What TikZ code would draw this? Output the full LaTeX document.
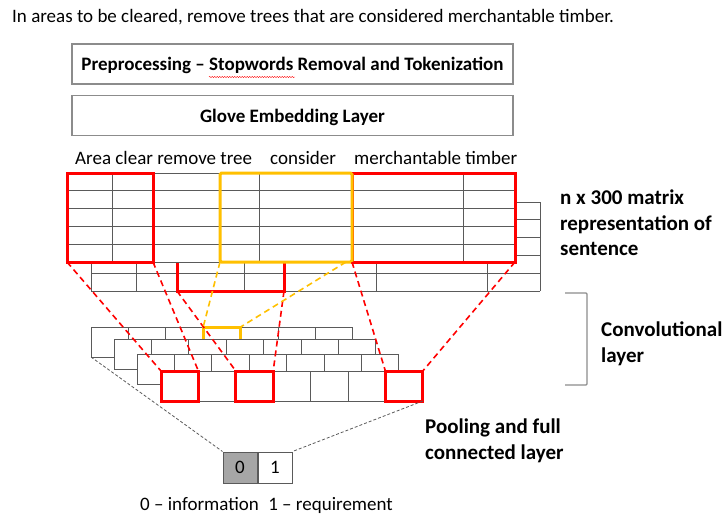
\documentclass[tikz,border=0pt]{standalone}
\usepackage{fontspec}
\setmainfont{Carlito}
\usetikzlibrary{decorations.pathmorphing}
\definecolor{ylw}{HTML}{FFC000}
\definecolor{gridgray}{HTML}{5A5A5A}
\definecolor{framegray}{HTML}{8C8C8C}
\definecolor{cellfill}{HTML}{A6A6A6}
\begin{document}
\begin{tikzpicture}[x=1pt,y=-1pt,
  txt/.style={font=\fontsize{19}{23}\selectfont, inner sep=0pt},
  bold/.style={font=\fontsize{21}{25.5}\selectfont\bfseries, inner sep=0pt, align=left},
  procbox/.style={draw=framegray, line width=1.5pt, minimum width=441pt, minimum height=40pt,
    font=\fontsize{19}{23}\selectfont\bfseries, inner sep=0pt, text depth=0pt},
  gridline/.style={draw=gridgray, line width=0.9pt},
  cellbox/.style={draw=gridgray, line width=0.9pt, fill=white},
  redbox/.style={draw=red, line width=3pt},
  ylwbox/.style={draw=ylw, line width=3pt, rounded corners=1.5pt},
  reddash/.style={draw=red, line width=1.6pt, dash pattern=on 6pt off 4pt},
  ylwdash/.style={draw=ylw, line width=1.6pt, dash pattern=on 6pt off 4pt},
  thindash/.style={draw=gridgray, line width=0.8pt, dash pattern=on 3pt off 2pt},
  outcell/.style={draw=gridgray, line width=1pt, minimum width=34pt, minimum height=31pt,
    inner sep=0pt, font=\fontsize{19}{23}\selectfont},
]
\useasboundingbox (0,0) rectangle (724,514);

% sentence and processing stages
\node[txt, anchor=west] (sent) at (12,17)
  {In areas to be cleared, remove trees that are considered merchantable timber.};
\node[procbox] (pre) at (292.5,64) {Preprocessing -- Stopwords Removal and Tokenization};
\draw[red, line width=0.4pt, decorate, decoration={snake, amplitude=0.6pt, segment length=2.5pt}]
  (209,77) -- (295,77);
\node[procbox] (glove) at (292.5,115.5) {Glove Embedding Layer};

% tokens
\node[txt, anchor=west] (tok1) at (75,158) {Area clear remove tree};
\node[txt, anchor=west] (tok2) at (270,158) {consider};
\node[txt, anchor=west] (tok3) at (354,158) {merchantable timber};

% back embedding matrix
\fill[white] (91,202) rectangle (540,291);
\foreach \k in {0,...,5} \draw[gridline] (91,202+\k*17.8) -- (540,202+\k*17.8);
\foreach \x in {91,136,177,244,283,376,487,540} \draw[gridline] (\x,202) -- (\x,291);
\draw[redbox] (177,202) rectangle (284,291);

% front embedding matrix
\fill[white] (67,173) rectangle (515,262);
\foreach \k in {0,...,5} \draw[gridline] (67,173+\k*17.8) -- (515,173+\k*17.8);
\foreach \x in {67,112,153,220,259,352,463,515} \draw[gridline] (\x,173) -- (\x,262);
\draw[redbox] (67,173) rectangle (153,262);
\draw[redbox] (352,173) rectangle (515,262);
\draw[ylwbox] (220,173) rectangle (352,262);

% named corners for the filter connectors
\coordinate (mL1) at (67,262);
\coordinate (mL2) at (153,262);
\coordinate (mB1) at (177,291);
\coordinate (mB2) at (284,291);
\coordinate (mR1) at (352,262);
\coordinate (mR2) at (515,262);
\coordinate (mY1) at (220,262);
\coordinate (mY2) at (346,262);

% convolutional feature maps (stacked)
\foreach \lx/\ly [count=\n] in {91/327, 114/339, 137/354, 161/371} {
  \foreach \i in {0,...,6}
    \draw[cellbox] (\lx+\i*37.4,\ly) rectangle ++(37.4,30);
  \ifnum\n=1
    \draw[draw=ylw, line width=3pt] (203.2,357) -- (203.2,327) -- (240.6,327) -- (240.6,357);
  \fi
}
\draw[redbox] (161,371) rectangle (198.4,401);
\draw[redbox] (235.8,371) rectangle (273.2,401);
\draw[redbox] (385.4,371) rectangle (422.8,401);

\coordinate (cA1) at (161,371);
\coordinate (cA2) at (198.4,371);
\coordinate (cB1) at (235.8,371);
\coordinate (cB2) at (273.2,371);
\coordinate (cC1) at (385.4,371);
\coordinate (cC2) at (422.8,371);
\coordinate (cY1) at (203.2,327);
\coordinate (cY2) at (240.6,327);
\coordinate (cBL) at (91,357);
\coordinate (cBR) at (422.8,401);

% filter connectors
\draw[reddash] (mL1) -- (cA1);
\draw[reddash] (mL2) -- (cA2);
\draw[reddash] (mB1) -- (cB1);
\draw[reddash] (mB2) -- (cB2);
\draw[reddash] (mR1) -- (cC1);
\draw[reddash] (mR2) -- (cC2);
\draw[ylwdash] (mY1) -- (cY1);
\draw[ylwdash] (mY2) -- (cY2);

% output layer
\node[outcell, fill=cellfill] (o0) at (240,467.5) {0};
\node[outcell, fill=white, anchor=west] (o1) at (o0.east) {1};
\draw[thindash] (cBL) -- (o0.north west);
\draw[thindash] (cBR) -- (o1.north east);
\node[txt, anchor=west] (legend) at (140,505) {0 -- information\enspace 1 -- requirement};

% side labels
\node[bold, anchor=north west] (lblm) at (560,190)
  {n x 300 matrix\\representation of\\sentence};
\draw[framegray, line width=1.2pt, rounded corners=1pt] (565,293) -- (587,293) -- (587,385) -- (565,385);
\node[bold, anchor=north west] (lblc) at (601,322) {Convolutional\\layer};
\node[bold, anchor=north west] (lblp) at (425,419) {Pooling and full\\connected layer};
\end{tikzpicture}
\end{document}
